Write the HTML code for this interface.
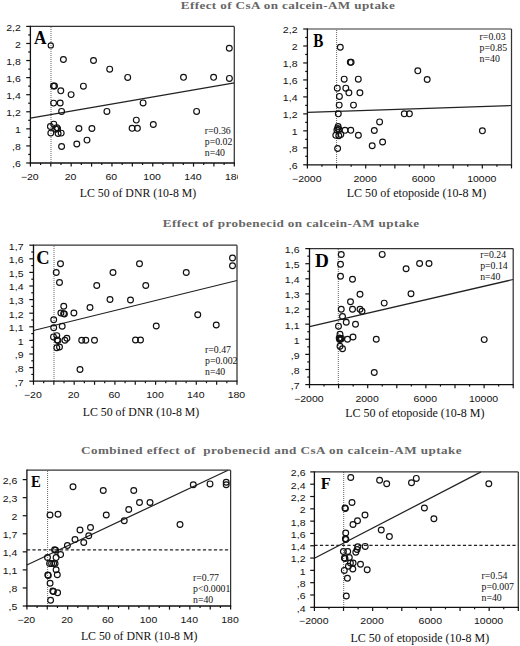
<!DOCTYPE html><html><head><meta charset="utf-8"><style>html,body{margin:0;padding:0;background:#fff;}svg{display:block;}</style></head><body>
<svg width="520" height="646" viewBox="0 0 520 646">
<rect width="520" height="646" fill="#fff"/>
<g transform="translate(180.8,8.8) scale(1.15,1)"><text x="0" y="0" font-family='"Liberation Serif", serif' font-weight="bold" font-size="11.4" fill="#666" textLength="186.09" lengthAdjust="spacing" xml:space="preserve">Effect of CsA on calcein-AM uptake</text></g>
<g transform="translate(162.8,227.4) scale(1.15,1)"><text x="0" y="0" font-family='"Liberation Serif", serif' font-weight="bold" font-size="11.4" fill="#666" textLength="222.96" lengthAdjust="spacing" xml:space="preserve">Effect of probenecid on calcein-AM uptake</text></g>
<g transform="translate(81.0,453.7) scale(1.15,1)"><text x="0" y="0" font-family='"Liberation Serif", serif' font-weight="bold" font-size="11.4" fill="#666" textLength="331.04" lengthAdjust="spacing" xml:space="preserve">Combined effect of  probenecid and CsA on calcein-AM uptake</text></g>
<g>
<line x1="51.0" y1="27" x2="51.0" y2="163.0" stroke="#666" stroke-width="1" stroke-dasharray="1 1"/>
<line x1="30.4" y1="118.2" x2="234.3" y2="82.8" stroke="#222" stroke-width="1.25"/>
<circle cx="50.8" cy="45.4" r="2.6" fill="none" stroke="#111" stroke-width="1.15"/>
<circle cx="63.4" cy="59.5" r="2.9" fill="none" stroke="#111" stroke-width="1.15"/>
<circle cx="93.5" cy="60.5" r="2.9" fill="none" stroke="#111" stroke-width="1.15"/>
<circle cx="109.7" cy="69.2" r="2.9" fill="none" stroke="#111" stroke-width="1.15"/>
<circle cx="127.7" cy="77.4" r="2.9" fill="none" stroke="#111" stroke-width="1.15"/>
<circle cx="183.5" cy="77.3" r="2.9" fill="none" stroke="#111" stroke-width="1.15"/>
<circle cx="213.6" cy="77.3" r="2.9" fill="none" stroke="#111" stroke-width="1.15"/>
<circle cx="229.4" cy="78.4" r="2.9" fill="none" stroke="#111" stroke-width="1.15"/>
<circle cx="229.3" cy="48.2" r="2.9" fill="none" stroke="#111" stroke-width="1.15"/>
<circle cx="53.5" cy="86.0" r="2.9" fill="none" stroke="#111" stroke-width="1.15"/>
<circle cx="54.5" cy="86.0" r="2.9" fill="none" stroke="#111" stroke-width="1.15"/>
<circle cx="60.8" cy="90.8" r="2.9" fill="none" stroke="#111" stroke-width="1.15"/>
<circle cx="71.1" cy="94.6" r="2.9" fill="none" stroke="#111" stroke-width="1.15"/>
<circle cx="83.4" cy="86.2" r="2.9" fill="none" stroke="#111" stroke-width="1.15"/>
<circle cx="53.6" cy="103.1" r="2.9" fill="none" stroke="#111" stroke-width="1.15"/>
<circle cx="60.2" cy="103.0" r="2.9" fill="none" stroke="#111" stroke-width="1.15"/>
<circle cx="61.6" cy="111.4" r="2.9" fill="none" stroke="#111" stroke-width="1.15"/>
<circle cx="106.9" cy="111.4" r="2.9" fill="none" stroke="#111" stroke-width="1.15"/>
<circle cx="143.1" cy="102.9" r="2.9" fill="none" stroke="#111" stroke-width="1.15"/>
<circle cx="196.6" cy="111.4" r="2.9" fill="none" stroke="#111" stroke-width="1.15"/>
<circle cx="136.3" cy="120.1" r="2.9" fill="none" stroke="#111" stroke-width="1.15"/>
<circle cx="132.1" cy="128.3" r="2.9" fill="none" stroke="#111" stroke-width="1.15"/>
<circle cx="137.4" cy="128.3" r="2.9" fill="none" stroke="#111" stroke-width="1.15"/>
<circle cx="153.3" cy="124.5" r="2.9" fill="none" stroke="#111" stroke-width="1.15"/>
<circle cx="50.4" cy="126.5" r="2.9" fill="none" stroke="#111" stroke-width="1.15"/>
<circle cx="53.8" cy="124.2" r="2.9" fill="none" stroke="#111" stroke-width="1.15"/>
<circle cx="56.8" cy="127.6" r="2.9" fill="none" stroke="#111" stroke-width="1.15"/>
<circle cx="57.6" cy="128.6" r="2.9" fill="none" stroke="#111" stroke-width="1.15"/>
<circle cx="55.8" cy="129.2" r="2.9" fill="none" stroke="#111" stroke-width="1.15"/>
<circle cx="50.8" cy="133.1" r="2.9" fill="none" stroke="#111" stroke-width="1.15"/>
<circle cx="58.1" cy="133.5" r="2.9" fill="none" stroke="#111" stroke-width="1.15"/>
<circle cx="61.2" cy="133.1" r="2.9" fill="none" stroke="#111" stroke-width="1.15"/>
<circle cx="78.9" cy="128.5" r="2.9" fill="none" stroke="#111" stroke-width="1.15"/>
<circle cx="91.9" cy="128.5" r="2.9" fill="none" stroke="#111" stroke-width="1.15"/>
<circle cx="76.8" cy="144.0" r="2.9" fill="none" stroke="#111" stroke-width="1.15"/>
<circle cx="87.0" cy="140.1" r="2.9" fill="none" stroke="#111" stroke-width="1.15"/>
<circle cx="61.6" cy="146.5" r="2.9" fill="none" stroke="#111" stroke-width="1.15"/>
<line x1="30.4" y1="26.4" x2="234.3" y2="26.4" stroke="#333" stroke-width="1.2"/>
<line x1="234.3" y1="26.4" x2="234.3" y2="163.0" stroke="#333" stroke-width="1.25"/>
<line x1="30.4" y1="25.799999999999997" x2="30.4" y2="163.6" stroke="#111" stroke-width="1.3"/>
<line x1="29.799999999999997" y1="163.0" x2="234.9" y2="163.0" stroke="#111" stroke-width="1.3"/>
<line x1="26.2" y1="163.00" x2="30.4" y2="163.00" stroke="#111" stroke-width="1.2"/>
<g transform="translate(20.8,167.40) scale(1.17,1)"><text x="0" y="0" text-anchor="end" font-family='"Liberation Sans", sans-serif' font-size="9" fill="#111">,6</text></g>
<line x1="28.2" y1="154.46" x2="30.4" y2="154.46" stroke="#111" stroke-width="1.2"/>
<line x1="26.2" y1="145.93" x2="30.4" y2="145.93" stroke="#111" stroke-width="1.2"/>
<g transform="translate(20.8,150.33) scale(1.17,1)"><text x="0" y="0" text-anchor="end" font-family='"Liberation Sans", sans-serif' font-size="9" fill="#111">,8</text></g>
<line x1="28.2" y1="137.39" x2="30.4" y2="137.39" stroke="#111" stroke-width="1.2"/>
<line x1="26.2" y1="128.85" x2="30.4" y2="128.85" stroke="#111" stroke-width="1.2"/>
<g transform="translate(20.8,133.25) scale(1.17,1)"><text x="0" y="0" text-anchor="end" font-family='"Liberation Sans", sans-serif' font-size="9" fill="#111">1</text></g>
<line x1="28.2" y1="120.31" x2="30.4" y2="120.31" stroke="#111" stroke-width="1.2"/>
<line x1="26.2" y1="111.77" x2="30.4" y2="111.77" stroke="#111" stroke-width="1.2"/>
<g transform="translate(20.8,116.17) scale(1.17,1)"><text x="0" y="0" text-anchor="end" font-family='"Liberation Sans", sans-serif' font-size="9" fill="#111">1,2</text></g>
<line x1="28.2" y1="103.24" x2="30.4" y2="103.24" stroke="#111" stroke-width="1.2"/>
<line x1="26.2" y1="94.70" x2="30.4" y2="94.70" stroke="#111" stroke-width="1.2"/>
<g transform="translate(20.8,99.10) scale(1.17,1)"><text x="0" y="0" text-anchor="end" font-family='"Liberation Sans", sans-serif' font-size="9" fill="#111">1,4</text></g>
<line x1="28.2" y1="86.16" x2="30.4" y2="86.16" stroke="#111" stroke-width="1.2"/>
<line x1="26.2" y1="77.62" x2="30.4" y2="77.62" stroke="#111" stroke-width="1.2"/>
<g transform="translate(20.8,82.03) scale(1.17,1)"><text x="0" y="0" text-anchor="end" font-family='"Liberation Sans", sans-serif' font-size="9" fill="#111">1,6</text></g>
<line x1="28.2" y1="69.09" x2="30.4" y2="69.09" stroke="#111" stroke-width="1.2"/>
<line x1="26.2" y1="60.55" x2="30.4" y2="60.55" stroke="#111" stroke-width="1.2"/>
<g transform="translate(20.8,64.95) scale(1.17,1)"><text x="0" y="0" text-anchor="end" font-family='"Liberation Sans", sans-serif' font-size="9" fill="#111">1,8</text></g>
<line x1="28.2" y1="52.01" x2="30.4" y2="52.01" stroke="#111" stroke-width="1.2"/>
<line x1="26.2" y1="43.48" x2="30.4" y2="43.48" stroke="#111" stroke-width="1.2"/>
<g transform="translate(20.8,47.88) scale(1.17,1)"><text x="0" y="0" text-anchor="end" font-family='"Liberation Sans", sans-serif' font-size="9" fill="#111">2</text></g>
<line x1="28.2" y1="34.94" x2="30.4" y2="34.94" stroke="#111" stroke-width="1.2"/>
<line x1="26.2" y1="26.40" x2="30.4" y2="26.40" stroke="#111" stroke-width="1.2"/>
<g transform="translate(20.8,30.80) scale(1.17,1)"><text x="0" y="0" text-anchor="end" font-family='"Liberation Sans", sans-serif' font-size="9" fill="#111">2,2</text></g>
<line x1="30.40" y1="163.0" x2="30.40" y2="166.6" stroke="#111" stroke-width="1.2"/>
<line x1="40.59" y1="163.0" x2="40.59" y2="165.0" stroke="#111" stroke-width="1.2"/>
<line x1="50.79" y1="163.0" x2="50.79" y2="166.6" stroke="#111" stroke-width="1.2"/>
<line x1="60.98" y1="163.0" x2="60.98" y2="165.0" stroke="#111" stroke-width="1.2"/>
<line x1="71.18" y1="163.0" x2="71.18" y2="166.6" stroke="#111" stroke-width="1.2"/>
<line x1="81.38" y1="163.0" x2="81.38" y2="165.0" stroke="#111" stroke-width="1.2"/>
<line x1="91.57" y1="163.0" x2="91.57" y2="166.6" stroke="#111" stroke-width="1.2"/>
<line x1="101.76" y1="163.0" x2="101.76" y2="165.0" stroke="#111" stroke-width="1.2"/>
<line x1="111.96" y1="163.0" x2="111.96" y2="166.6" stroke="#111" stroke-width="1.2"/>
<line x1="122.16" y1="163.0" x2="122.16" y2="165.0" stroke="#111" stroke-width="1.2"/>
<line x1="132.35" y1="163.0" x2="132.35" y2="166.6" stroke="#111" stroke-width="1.2"/>
<line x1="142.55" y1="163.0" x2="142.55" y2="165.0" stroke="#111" stroke-width="1.2"/>
<line x1="152.74" y1="163.0" x2="152.74" y2="166.6" stroke="#111" stroke-width="1.2"/>
<line x1="162.94" y1="163.0" x2="162.94" y2="165.0" stroke="#111" stroke-width="1.2"/>
<line x1="173.13" y1="163.0" x2="173.13" y2="166.6" stroke="#111" stroke-width="1.2"/>
<line x1="183.33" y1="163.0" x2="183.33" y2="165.0" stroke="#111" stroke-width="1.2"/>
<line x1="193.52" y1="163.0" x2="193.52" y2="166.6" stroke="#111" stroke-width="1.2"/>
<line x1="203.72" y1="163.0" x2="203.72" y2="165.0" stroke="#111" stroke-width="1.2"/>
<line x1="213.91" y1="163.0" x2="213.91" y2="166.6" stroke="#111" stroke-width="1.2"/>
<line x1="224.10" y1="163.0" x2="224.10" y2="165.0" stroke="#111" stroke-width="1.2"/>
<line x1="234.30" y1="163.0" x2="234.30" y2="166.6" stroke="#111" stroke-width="1.2"/>
<clipPath id="clipA"><rect x="0" y="0" width="238.0" height="646"/></clipPath>
<g transform="translate(29.80,180.2) scale(1.17,1)"><text x="0" y="0" text-anchor="middle" font-family='"Liberation Sans", sans-serif' font-size="9" fill="#111">−20</text></g>
<g transform="translate(70.58,180.2) scale(1.17,1)"><text x="0" y="0" text-anchor="middle" font-family='"Liberation Sans", sans-serif' font-size="9" fill="#111">20</text></g>
<g transform="translate(111.36,180.2) scale(1.17,1)"><text x="0" y="0" text-anchor="middle" font-family='"Liberation Sans", sans-serif' font-size="9" fill="#111">60</text></g>
<g transform="translate(152.14,180.2) scale(1.17,1)"><text x="0" y="0" text-anchor="middle" font-family='"Liberation Sans", sans-serif' font-size="9" fill="#111">100</text></g>
<g transform="translate(192.92,180.2) scale(1.17,1)"><text x="0" y="0" text-anchor="middle" font-family='"Liberation Sans", sans-serif' font-size="9" fill="#111">140</text></g>
<g clip-path="url(#clipA)">
<g transform="translate(233.70,180.2) scale(1.17,1)"><text x="0" y="0" text-anchor="middle" font-family='"Liberation Sans", sans-serif' font-size="9" fill="#111">180</text></g>
</g>
<g transform="translate(33.93,43.80) scale(0.967,1)"><text x="0" y="0" font-family='"Liberation Serif", serif' font-weight="bold" font-size="17.88" fill="#000">A</text></g>
<text x="204.8" y="133.90" font-family='"Liberation Serif", serif' font-size="9.8" fill="#111">r=0.36</text>
<text x="204.8" y="144.95" font-family='"Liberation Serif", serif' font-size="9.8" fill="#111">p=0.02</text>
<text x="204.8" y="156.00" font-family='"Liberation Serif", serif' font-size="9.8" fill="#111">n=40</text>
<text x="79.70" y="196.5" font-family='"Liberation Serif", serif' font-size="11.8" fill="#111" textLength="116.60" lengthAdjust="spacingAndGlyphs">LC 50 of DNR (10-8 M)</text>
</g>
<g>
<line x1="336.6" y1="30" x2="336.6" y2="164.8" stroke="#666" stroke-width="1" stroke-dasharray="1 1"/>
<line x1="307.4" y1="112.3" x2="511.5" y2="105.5" stroke="#222" stroke-width="1.25"/>
<circle cx="340.3" cy="47.3" r="2.9" fill="none" stroke="#111" stroke-width="1.15"/>
<circle cx="350.3" cy="62.3" r="2.9" fill="none" stroke="#111" stroke-width="1.15"/>
<circle cx="351.1" cy="62.3" r="2.9" fill="none" stroke="#111" stroke-width="1.15"/>
<circle cx="344.2" cy="79.2" r="2.9" fill="none" stroke="#111" stroke-width="1.15"/>
<circle cx="358.3" cy="79.2" r="2.9" fill="none" stroke="#111" stroke-width="1.15"/>
<circle cx="337.3" cy="88.2" r="2.9" fill="none" stroke="#111" stroke-width="1.15"/>
<circle cx="345.8" cy="88.2" r="2.9" fill="none" stroke="#111" stroke-width="1.15"/>
<circle cx="348.9" cy="92.8" r="2.9" fill="none" stroke="#111" stroke-width="1.15"/>
<circle cx="359.9" cy="92.8" r="2.9" fill="none" stroke="#111" stroke-width="1.15"/>
<circle cx="339.4" cy="96.4" r="2.9" fill="none" stroke="#111" stroke-width="1.15"/>
<circle cx="339.2" cy="105.1" r="2.9" fill="none" stroke="#111" stroke-width="1.15"/>
<circle cx="353.5" cy="105.1" r="2.9" fill="none" stroke="#111" stroke-width="1.15"/>
<circle cx="338.3" cy="113.8" r="2.9" fill="none" stroke="#111" stroke-width="1.15"/>
<circle cx="404.3" cy="113.8" r="2.9" fill="none" stroke="#111" stroke-width="1.15"/>
<circle cx="409.4" cy="113.8" r="2.9" fill="none" stroke="#111" stroke-width="1.15"/>
<circle cx="417.8" cy="70.8" r="2.9" fill="none" stroke="#111" stroke-width="1.15"/>
<circle cx="427.2" cy="79.5" r="2.9" fill="none" stroke="#111" stroke-width="1.15"/>
<circle cx="379.6" cy="121.9" r="2.9" fill="none" stroke="#111" stroke-width="1.15"/>
<circle cx="482.4" cy="130.8" r="2.9" fill="none" stroke="#111" stroke-width="1.15"/>
<circle cx="338.1" cy="126.5" r="2.9" fill="none" stroke="#111" stroke-width="1.15"/>
<circle cx="337.7" cy="128.4" r="2.9" fill="none" stroke="#111" stroke-width="1.15"/>
<circle cx="339.0" cy="129.5" r="2.9" fill="none" stroke="#111" stroke-width="1.15"/>
<circle cx="345.0" cy="130.3" r="2.9" fill="none" stroke="#111" stroke-width="1.15"/>
<circle cx="350.8" cy="130.3" r="2.9" fill="none" stroke="#111" stroke-width="1.15"/>
<circle cx="336.9" cy="130.0" r="2.9" fill="none" stroke="#111" stroke-width="1.15"/>
<circle cx="374.3" cy="130.5" r="2.9" fill="none" stroke="#111" stroke-width="1.15"/>
<circle cx="335.8" cy="135.3" r="2.9" fill="none" stroke="#111" stroke-width="1.15"/>
<circle cx="338.8" cy="135.7" r="2.9" fill="none" stroke="#111" stroke-width="1.15"/>
<circle cx="340.8" cy="134.5" r="2.9" fill="none" stroke="#111" stroke-width="1.15"/>
<circle cx="358.4" cy="135.2" r="2.9" fill="none" stroke="#111" stroke-width="1.15"/>
<circle cx="382.6" cy="142.0" r="2.9" fill="none" stroke="#111" stroke-width="1.15"/>
<circle cx="372.2" cy="145.7" r="2.9" fill="none" stroke="#111" stroke-width="1.15"/>
<circle cx="337.6" cy="148.5" r="2.9" fill="none" stroke="#111" stroke-width="1.15"/>
<line x1="307.4" y1="29.0" x2="511.5" y2="29.0" stroke="#333" stroke-width="1.2"/>
<line x1="511.5" y1="29.0" x2="511.5" y2="164.8" stroke="#333" stroke-width="1.25"/>
<line x1="307.4" y1="28.4" x2="307.4" y2="165.4" stroke="#111" stroke-width="1.3"/>
<line x1="306.79999999999995" y1="164.8" x2="512.1" y2="164.8" stroke="#111" stroke-width="1.3"/>
<line x1="303.2" y1="164.80" x2="307.4" y2="164.80" stroke="#111" stroke-width="1.2"/>
<g transform="translate(297.5,169.20) scale(1.17,1)"><text x="0" y="0" text-anchor="end" font-family='"Liberation Sans", sans-serif' font-size="9" fill="#111">,6</text></g>
<line x1="305.2" y1="156.31" x2="307.4" y2="156.31" stroke="#111" stroke-width="1.2"/>
<line x1="303.2" y1="147.83" x2="307.4" y2="147.83" stroke="#111" stroke-width="1.2"/>
<g transform="translate(297.5,152.23) scale(1.17,1)"><text x="0" y="0" text-anchor="end" font-family='"Liberation Sans", sans-serif' font-size="9" fill="#111">,8</text></g>
<line x1="305.2" y1="139.34" x2="307.4" y2="139.34" stroke="#111" stroke-width="1.2"/>
<line x1="303.2" y1="130.85" x2="307.4" y2="130.85" stroke="#111" stroke-width="1.2"/>
<g transform="translate(297.5,135.25) scale(1.17,1)"><text x="0" y="0" text-anchor="end" font-family='"Liberation Sans", sans-serif' font-size="9" fill="#111">1</text></g>
<line x1="305.2" y1="122.36" x2="307.4" y2="122.36" stroke="#111" stroke-width="1.2"/>
<line x1="303.2" y1="113.88" x2="307.4" y2="113.88" stroke="#111" stroke-width="1.2"/>
<g transform="translate(297.5,118.28) scale(1.17,1)"><text x="0" y="0" text-anchor="end" font-family='"Liberation Sans", sans-serif' font-size="9" fill="#111">1,2</text></g>
<line x1="305.2" y1="105.39" x2="307.4" y2="105.39" stroke="#111" stroke-width="1.2"/>
<line x1="303.2" y1="96.90" x2="307.4" y2="96.90" stroke="#111" stroke-width="1.2"/>
<g transform="translate(297.5,101.30) scale(1.17,1)"><text x="0" y="0" text-anchor="end" font-family='"Liberation Sans", sans-serif' font-size="9" fill="#111">1,4</text></g>
<line x1="305.2" y1="88.41" x2="307.4" y2="88.41" stroke="#111" stroke-width="1.2"/>
<line x1="303.2" y1="79.93" x2="307.4" y2="79.93" stroke="#111" stroke-width="1.2"/>
<g transform="translate(297.5,84.33) scale(1.17,1)"><text x="0" y="0" text-anchor="end" font-family='"Liberation Sans", sans-serif' font-size="9" fill="#111">1,6</text></g>
<line x1="305.2" y1="71.44" x2="307.4" y2="71.44" stroke="#111" stroke-width="1.2"/>
<line x1="303.2" y1="62.95" x2="307.4" y2="62.95" stroke="#111" stroke-width="1.2"/>
<g transform="translate(297.5,67.35) scale(1.17,1)"><text x="0" y="0" text-anchor="end" font-family='"Liberation Sans", sans-serif' font-size="9" fill="#111">1,8</text></g>
<line x1="305.2" y1="54.46" x2="307.4" y2="54.46" stroke="#111" stroke-width="1.2"/>
<line x1="303.2" y1="45.98" x2="307.4" y2="45.98" stroke="#111" stroke-width="1.2"/>
<g transform="translate(297.5,50.38) scale(1.17,1)"><text x="0" y="0" text-anchor="end" font-family='"Liberation Sans", sans-serif' font-size="9" fill="#111">2</text></g>
<line x1="305.2" y1="37.49" x2="307.4" y2="37.49" stroke="#111" stroke-width="1.2"/>
<line x1="303.2" y1="29.00" x2="307.4" y2="29.00" stroke="#111" stroke-width="1.2"/>
<g transform="translate(297.5,33.40) scale(1.17,1)"><text x="0" y="0" text-anchor="end" font-family='"Liberation Sans", sans-serif' font-size="9" fill="#111">2,2</text></g>
<line x1="307.40" y1="164.8" x2="307.40" y2="168.4" stroke="#111" stroke-width="1.2"/>
<line x1="321.98" y1="164.8" x2="321.98" y2="166.8" stroke="#111" stroke-width="1.2"/>
<line x1="336.56" y1="164.8" x2="336.56" y2="168.4" stroke="#111" stroke-width="1.2"/>
<line x1="351.14" y1="164.8" x2="351.14" y2="166.8" stroke="#111" stroke-width="1.2"/>
<line x1="365.71" y1="164.8" x2="365.71" y2="168.4" stroke="#111" stroke-width="1.2"/>
<line x1="380.29" y1="164.8" x2="380.29" y2="166.8" stroke="#111" stroke-width="1.2"/>
<line x1="394.87" y1="164.8" x2="394.87" y2="168.4" stroke="#111" stroke-width="1.2"/>
<line x1="409.45" y1="164.8" x2="409.45" y2="166.8" stroke="#111" stroke-width="1.2"/>
<line x1="424.03" y1="164.8" x2="424.03" y2="168.4" stroke="#111" stroke-width="1.2"/>
<line x1="438.61" y1="164.8" x2="438.61" y2="166.8" stroke="#111" stroke-width="1.2"/>
<line x1="453.19" y1="164.8" x2="453.19" y2="168.4" stroke="#111" stroke-width="1.2"/>
<line x1="467.76" y1="164.8" x2="467.76" y2="166.8" stroke="#111" stroke-width="1.2"/>
<line x1="482.34" y1="164.8" x2="482.34" y2="168.4" stroke="#111" stroke-width="1.2"/>
<line x1="496.92" y1="164.8" x2="496.92" y2="166.8" stroke="#111" stroke-width="1.2"/>
<line x1="511.50" y1="164.8" x2="511.50" y2="168.4" stroke="#111" stroke-width="1.2"/>
<g transform="translate(306.80,182.3) scale(1.17,1)"><text x="0" y="0" text-anchor="middle" font-family='"Liberation Sans", sans-serif' font-size="9" fill="#111">−2000</text></g>
<g transform="translate(365.11,182.3) scale(1.17,1)"><text x="0" y="0" text-anchor="middle" font-family='"Liberation Sans", sans-serif' font-size="9" fill="#111">2000</text></g>
<g transform="translate(423.43,182.3) scale(1.17,1)"><text x="0" y="0" text-anchor="middle" font-family='"Liberation Sans", sans-serif' font-size="9" fill="#111">6000</text></g>
<g transform="translate(481.74,182.3) scale(1.17,1)"><text x="0" y="0" text-anchor="middle" font-family='"Liberation Sans", sans-serif' font-size="9" fill="#111">10000</text></g>
<g transform="translate(313.20,46.80) scale(0.835,1)"><text x="0" y="0" font-family='"Liberation Serif", serif' font-weight="bold" font-size="18.15" fill="#000">B</text></g>
<text x="479.6" y="39.60" font-family='"Liberation Serif", serif' font-size="9.8" fill="#111">r=0.03</text>
<text x="479.6" y="50.65" font-family='"Liberation Serif", serif' font-size="9.8" fill="#111">p=0.85</text>
<text x="479.6" y="61.70" font-family='"Liberation Serif", serif' font-size="9.8" fill="#111">n=40</text>
<text x="346.70" y="197.3" font-family='"Liberation Serif", serif' font-size="11.8" fill="#111" textLength="139.60" lengthAdjust="spacingAndGlyphs">LC 50 of etoposide (10-8 M)</text>
</g>
<g>
<line x1="54.0" y1="246" x2="54.0" y2="381.2" stroke="#666" stroke-width="1" stroke-dasharray="1 1"/>
<line x1="33.5" y1="330.5" x2="237.0" y2="280.5" stroke="#222" stroke-width="1.25"/>
<circle cx="60.5" cy="263.75" r="2.9" fill="none" stroke="#111" stroke-width="1.15"/>
<circle cx="56.25" cy="272.5" r="2.9" fill="none" stroke="#111" stroke-width="1.15"/>
<circle cx="59.5" cy="282.5" r="2.9" fill="none" stroke="#111" stroke-width="1.15"/>
<circle cx="96.75" cy="285.5" r="2.9" fill="none" stroke="#111" stroke-width="1.15"/>
<circle cx="113" cy="272.5" r="2.9" fill="none" stroke="#111" stroke-width="1.15"/>
<circle cx="110" cy="299.5" r="2.9" fill="none" stroke="#111" stroke-width="1.15"/>
<circle cx="63.75" cy="306.25" r="2.9" fill="none" stroke="#111" stroke-width="1.15"/>
<circle cx="90" cy="307.5" r="2.9" fill="none" stroke="#111" stroke-width="1.15"/>
<circle cx="60.9" cy="313.0" r="2.9" fill="none" stroke="#111" stroke-width="1.15"/>
<circle cx="63.6" cy="313.6" r="2.9" fill="none" stroke="#111" stroke-width="1.15"/>
<circle cx="64.4" cy="314.0" r="2.9" fill="none" stroke="#111" stroke-width="1.15"/>
<circle cx="73.9" cy="313.0" r="2.9" fill="none" stroke="#111" stroke-width="1.15"/>
<circle cx="53.7" cy="319.7" r="2.9" fill="none" stroke="#111" stroke-width="1.15"/>
<circle cx="53.7" cy="327.8" r="2.9" fill="none" stroke="#111" stroke-width="1.15"/>
<circle cx="62.2" cy="326.2" r="2.9" fill="none" stroke="#111" stroke-width="1.15"/>
<circle cx="139.5" cy="263.75" r="2.9" fill="none" stroke="#111" stroke-width="1.15"/>
<circle cx="186.25" cy="272.5" r="2.9" fill="none" stroke="#111" stroke-width="1.15"/>
<circle cx="232.5" cy="258" r="2.9" fill="none" stroke="#111" stroke-width="1.15"/>
<circle cx="232.5" cy="265.75" r="2.9" fill="none" stroke="#111" stroke-width="1.15"/>
<circle cx="145.75" cy="285.5" r="2.9" fill="none" stroke="#111" stroke-width="1.15"/>
<circle cx="130.5" cy="300" r="2.9" fill="none" stroke="#111" stroke-width="1.15"/>
<circle cx="197.75" cy="314.8" r="2.9" fill="none" stroke="#111" stroke-width="1.15"/>
<circle cx="216.25" cy="325" r="2.9" fill="none" stroke="#111" stroke-width="1.15"/>
<circle cx="156.25" cy="326" r="2.9" fill="none" stroke="#111" stroke-width="1.15"/>
<circle cx="135.5" cy="340" r="2.9" fill="none" stroke="#111" stroke-width="1.15"/>
<circle cx="140.5" cy="340" r="2.9" fill="none" stroke="#111" stroke-width="1.15"/>
<circle cx="53.5" cy="336.9" r="2.9" fill="none" stroke="#111" stroke-width="1.15"/>
<circle cx="56.8" cy="335.6" r="2.9" fill="none" stroke="#111" stroke-width="1.15"/>
<circle cx="57.2" cy="340.0" r="2.9" fill="none" stroke="#111" stroke-width="1.15"/>
<circle cx="57.9" cy="340.6" r="2.9" fill="none" stroke="#111" stroke-width="1.15"/>
<circle cx="64.9" cy="340.3" r="2.9" fill="none" stroke="#111" stroke-width="1.15"/>
<circle cx="66.9" cy="338.3" r="2.9" fill="none" stroke="#111" stroke-width="1.15"/>
<circle cx="56.8" cy="347.7" r="2.9" fill="none" stroke="#111" stroke-width="1.15"/>
<circle cx="59.5" cy="347.0" r="2.9" fill="none" stroke="#111" stroke-width="1.15"/>
<circle cx="81.7" cy="340.3" r="2.9" fill="none" stroke="#111" stroke-width="1.15"/>
<circle cx="85.8" cy="340.3" r="2.9" fill="none" stroke="#111" stroke-width="1.15"/>
<circle cx="94.5" cy="340.3" r="2.9" fill="none" stroke="#111" stroke-width="1.15"/>
<circle cx="80.0" cy="369.5" r="2.9" fill="none" stroke="#111" stroke-width="1.15"/>
<line x1="33.5" y1="245.2" x2="237.0" y2="245.2" stroke="#333" stroke-width="1.2"/>
<line x1="237.0" y1="245.2" x2="237.0" y2="381.2" stroke="#333" stroke-width="1.25"/>
<line x1="33.5" y1="244.6" x2="33.5" y2="381.8" stroke="#111" stroke-width="1.3"/>
<line x1="32.9" y1="381.2" x2="237.6" y2="381.2" stroke="#111" stroke-width="1.3"/>
<line x1="29.3" y1="381.20" x2="33.5" y2="381.20" stroke="#111" stroke-width="1.2"/>
<g transform="translate(23.5,385.60) scale(1.17,1)"><text x="0" y="0" text-anchor="end" font-family='"Liberation Sans", sans-serif' font-size="9" fill="#111">,7</text></g>
<line x1="31.3" y1="374.40" x2="33.5" y2="374.40" stroke="#111" stroke-width="1.2"/>
<line x1="29.3" y1="367.60" x2="33.5" y2="367.60" stroke="#111" stroke-width="1.2"/>
<g transform="translate(23.5,372.00) scale(1.17,1)"><text x="0" y="0" text-anchor="end" font-family='"Liberation Sans", sans-serif' font-size="9" fill="#111">,8</text></g>
<line x1="31.3" y1="360.80" x2="33.5" y2="360.80" stroke="#111" stroke-width="1.2"/>
<line x1="29.3" y1="354.00" x2="33.5" y2="354.00" stroke="#111" stroke-width="1.2"/>
<g transform="translate(23.5,358.40) scale(1.17,1)"><text x="0" y="0" text-anchor="end" font-family='"Liberation Sans", sans-serif' font-size="9" fill="#111">,9</text></g>
<line x1="31.3" y1="347.20" x2="33.5" y2="347.20" stroke="#111" stroke-width="1.2"/>
<line x1="29.3" y1="340.40" x2="33.5" y2="340.40" stroke="#111" stroke-width="1.2"/>
<g transform="translate(23.5,344.80) scale(1.17,1)"><text x="0" y="0" text-anchor="end" font-family='"Liberation Sans", sans-serif' font-size="9" fill="#111">1</text></g>
<line x1="31.3" y1="333.60" x2="33.5" y2="333.60" stroke="#111" stroke-width="1.2"/>
<line x1="29.3" y1="326.80" x2="33.5" y2="326.80" stroke="#111" stroke-width="1.2"/>
<g transform="translate(23.5,331.20) scale(1.17,1)"><text x="0" y="0" text-anchor="end" font-family='"Liberation Sans", sans-serif' font-size="9" fill="#111">1,1</text></g>
<line x1="31.3" y1="320.00" x2="33.5" y2="320.00" stroke="#111" stroke-width="1.2"/>
<line x1="29.3" y1="313.20" x2="33.5" y2="313.20" stroke="#111" stroke-width="1.2"/>
<g transform="translate(23.5,317.60) scale(1.17,1)"><text x="0" y="0" text-anchor="end" font-family='"Liberation Sans", sans-serif' font-size="9" fill="#111">1,2</text></g>
<line x1="31.3" y1="306.40" x2="33.5" y2="306.40" stroke="#111" stroke-width="1.2"/>
<line x1="29.3" y1="299.60" x2="33.5" y2="299.60" stroke="#111" stroke-width="1.2"/>
<g transform="translate(23.5,304.00) scale(1.17,1)"><text x="0" y="0" text-anchor="end" font-family='"Liberation Sans", sans-serif' font-size="9" fill="#111">1,3</text></g>
<line x1="31.3" y1="292.80" x2="33.5" y2="292.80" stroke="#111" stroke-width="1.2"/>
<line x1="29.3" y1="286.00" x2="33.5" y2="286.00" stroke="#111" stroke-width="1.2"/>
<g transform="translate(23.5,290.40) scale(1.17,1)"><text x="0" y="0" text-anchor="end" font-family='"Liberation Sans", sans-serif' font-size="9" fill="#111">1,4</text></g>
<line x1="31.3" y1="279.20" x2="33.5" y2="279.20" stroke="#111" stroke-width="1.2"/>
<line x1="29.3" y1="272.40" x2="33.5" y2="272.40" stroke="#111" stroke-width="1.2"/>
<g transform="translate(23.5,276.80) scale(1.17,1)"><text x="0" y="0" text-anchor="end" font-family='"Liberation Sans", sans-serif' font-size="9" fill="#111">1,5</text></g>
<line x1="31.3" y1="265.60" x2="33.5" y2="265.60" stroke="#111" stroke-width="1.2"/>
<line x1="29.3" y1="258.80" x2="33.5" y2="258.80" stroke="#111" stroke-width="1.2"/>
<g transform="translate(23.5,263.20) scale(1.17,1)"><text x="0" y="0" text-anchor="end" font-family='"Liberation Sans", sans-serif' font-size="9" fill="#111">1,6</text></g>
<line x1="31.3" y1="252.00" x2="33.5" y2="252.00" stroke="#111" stroke-width="1.2"/>
<line x1="29.3" y1="245.20" x2="33.5" y2="245.20" stroke="#111" stroke-width="1.2"/>
<g transform="translate(23.5,249.60) scale(1.17,1)"><text x="0" y="0" text-anchor="end" font-family='"Liberation Sans", sans-serif' font-size="9" fill="#111">1,7</text></g>
<line x1="33.50" y1="381.2" x2="33.50" y2="384.8" stroke="#111" stroke-width="1.2"/>
<line x1="43.67" y1="381.2" x2="43.67" y2="383.2" stroke="#111" stroke-width="1.2"/>
<line x1="53.85" y1="381.2" x2="53.85" y2="384.8" stroke="#111" stroke-width="1.2"/>
<line x1="64.03" y1="381.2" x2="64.03" y2="383.2" stroke="#111" stroke-width="1.2"/>
<line x1="74.20" y1="381.2" x2="74.20" y2="384.8" stroke="#111" stroke-width="1.2"/>
<line x1="84.38" y1="381.2" x2="84.38" y2="383.2" stroke="#111" stroke-width="1.2"/>
<line x1="94.55" y1="381.2" x2="94.55" y2="384.8" stroke="#111" stroke-width="1.2"/>
<line x1="104.72" y1="381.2" x2="104.72" y2="383.2" stroke="#111" stroke-width="1.2"/>
<line x1="114.90" y1="381.2" x2="114.90" y2="384.8" stroke="#111" stroke-width="1.2"/>
<line x1="125.08" y1="381.2" x2="125.08" y2="383.2" stroke="#111" stroke-width="1.2"/>
<line x1="135.25" y1="381.2" x2="135.25" y2="384.8" stroke="#111" stroke-width="1.2"/>
<line x1="145.43" y1="381.2" x2="145.43" y2="383.2" stroke="#111" stroke-width="1.2"/>
<line x1="155.60" y1="381.2" x2="155.60" y2="384.8" stroke="#111" stroke-width="1.2"/>
<line x1="165.78" y1="381.2" x2="165.78" y2="383.2" stroke="#111" stroke-width="1.2"/>
<line x1="175.95" y1="381.2" x2="175.95" y2="384.8" stroke="#111" stroke-width="1.2"/>
<line x1="186.12" y1="381.2" x2="186.12" y2="383.2" stroke="#111" stroke-width="1.2"/>
<line x1="196.30" y1="381.2" x2="196.30" y2="384.8" stroke="#111" stroke-width="1.2"/>
<line x1="206.47" y1="381.2" x2="206.47" y2="383.2" stroke="#111" stroke-width="1.2"/>
<line x1="216.65" y1="381.2" x2="216.65" y2="384.8" stroke="#111" stroke-width="1.2"/>
<line x1="226.82" y1="381.2" x2="226.82" y2="383.2" stroke="#111" stroke-width="1.2"/>
<line x1="237.00" y1="381.2" x2="237.00" y2="384.8" stroke="#111" stroke-width="1.2"/>
<g transform="translate(32.90,398.4) scale(1.17,1)"><text x="0" y="0" text-anchor="middle" font-family='"Liberation Sans", sans-serif' font-size="9" fill="#111">−20</text></g>
<g transform="translate(73.60,398.4) scale(1.17,1)"><text x="0" y="0" text-anchor="middle" font-family='"Liberation Sans", sans-serif' font-size="9" fill="#111">20</text></g>
<g transform="translate(114.30,398.4) scale(1.17,1)"><text x="0" y="0" text-anchor="middle" font-family='"Liberation Sans", sans-serif' font-size="9" fill="#111">60</text></g>
<g transform="translate(155.00,398.4) scale(1.17,1)"><text x="0" y="0" text-anchor="middle" font-family='"Liberation Sans", sans-serif' font-size="9" fill="#111">100</text></g>
<g transform="translate(195.70,398.4) scale(1.17,1)"><text x="0" y="0" text-anchor="middle" font-family='"Liberation Sans", sans-serif' font-size="9" fill="#111">140</text></g>
<g transform="translate(236.40,398.4) scale(1.17,1)"><text x="0" y="0" text-anchor="middle" font-family='"Liberation Sans", sans-serif' font-size="9" fill="#111">180</text></g>
<g transform="translate(36.18,263.62) scale(1.018,1)"><text x="0" y="0" font-family='"Liberation Serif", serif' font-weight="bold" font-size="18.18" fill="#000">C</text></g>
<text x="205.0" y="353.20" font-family='"Liberation Serif", serif' font-size="9.8" fill="#111">r=0.47</text>
<text x="205.0" y="364.25" font-family='"Liberation Serif", serif' font-size="9.8" fill="#111">p=0.002</text>
<text x="205.0" y="375.30" font-family='"Liberation Serif", serif' font-size="9.8" fill="#111">n=40</text>
<text x="82.70" y="415.9" font-family='"Liberation Serif", serif' font-size="11.8" fill="#111" textLength="116.60" lengthAdjust="spacingAndGlyphs">LC 50 of DNR (10-8 M)</text>
</g>
<g>
<line x1="338.3" y1="249" x2="338.3" y2="384.6" stroke="#666" stroke-width="1" stroke-dasharray="1 1"/>
<line x1="309.5" y1="326.7" x2="513.2" y2="279.5" stroke="#222" stroke-width="1.25"/>
<circle cx="341.25" cy="254.5" r="2.9" fill="none" stroke="#111" stroke-width="1.15"/>
<circle cx="382.2" cy="254.4" r="2.9" fill="none" stroke="#111" stroke-width="1.15"/>
<circle cx="340.5" cy="264.25" r="2.9" fill="none" stroke="#111" stroke-width="1.15"/>
<circle cx="340.5" cy="276.25" r="2.9" fill="none" stroke="#111" stroke-width="1.15"/>
<circle cx="352.5" cy="279.25" r="2.9" fill="none" stroke="#111" stroke-width="1.15"/>
<circle cx="360" cy="294.25" r="2.9" fill="none" stroke="#111" stroke-width="1.15"/>
<circle cx="350.5" cy="301.75" r="2.9" fill="none" stroke="#111" stroke-width="1.15"/>
<circle cx="384.2" cy="303.1" r="2.9" fill="none" stroke="#111" stroke-width="1.15"/>
<circle cx="341.25" cy="309.25" r="2.9" fill="none" stroke="#111" stroke-width="1.15"/>
<circle cx="352.5" cy="309.25" r="2.9" fill="none" stroke="#111" stroke-width="1.15"/>
<circle cx="360" cy="309.25" r="2.9" fill="none" stroke="#111" stroke-width="1.15"/>
<circle cx="362" cy="311.25" r="2.9" fill="none" stroke="#111" stroke-width="1.15"/>
<circle cx="342.5" cy="316.5" r="2.9" fill="none" stroke="#111" stroke-width="1.15"/>
<circle cx="346.25" cy="322.3" r="2.9" fill="none" stroke="#111" stroke-width="1.15"/>
<circle cx="355.5" cy="324.25" r="2.9" fill="none" stroke="#111" stroke-width="1.15"/>
<circle cx="338.5" cy="326.25" r="2.9" fill="none" stroke="#111" stroke-width="1.15"/>
<circle cx="406.1" cy="268.7" r="2.9" fill="none" stroke="#111" stroke-width="1.15"/>
<circle cx="419.6" cy="263.5" r="2.9" fill="none" stroke="#111" stroke-width="1.15"/>
<circle cx="429" cy="263.5" r="2.9" fill="none" stroke="#111" stroke-width="1.15"/>
<circle cx="411" cy="293.7" r="2.9" fill="none" stroke="#111" stroke-width="1.15"/>
<circle cx="340" cy="334.25" r="2.9" fill="none" stroke="#111" stroke-width="1.15"/>
<circle cx="339.2" cy="338.0" r="2.9" fill="none" stroke="#111" stroke-width="1.15"/>
<circle cx="340.6" cy="339.2" r="2.9" fill="none" stroke="#111" stroke-width="1.15"/>
<circle cx="341.5" cy="338.4" r="2.9" fill="none" stroke="#111" stroke-width="1.15"/>
<circle cx="339.6" cy="339.6" r="2.9" fill="none" stroke="#111" stroke-width="1.15"/>
<circle cx="340.2" cy="338.6" r="2.9" fill="none" stroke="#111" stroke-width="1.15"/>
<circle cx="347.5" cy="339.25" r="2.9" fill="none" stroke="#111" stroke-width="1.15"/>
<circle cx="353" cy="337" r="2.9" fill="none" stroke="#111" stroke-width="1.15"/>
<circle cx="376.25" cy="339.25" r="2.9" fill="none" stroke="#111" stroke-width="1.15"/>
<circle cx="340" cy="346.25" r="2.9" fill="none" stroke="#111" stroke-width="1.15"/>
<circle cx="342.5" cy="348.75" r="2.9" fill="none" stroke="#111" stroke-width="1.15"/>
<circle cx="374.25" cy="372.5" r="2.9" fill="none" stroke="#111" stroke-width="1.15"/>
<circle cx="484.2" cy="339.6" r="2.9" fill="none" stroke="#111" stroke-width="1.15"/>
<line x1="309.5" y1="248.6" x2="513.2" y2="248.6" stroke="#333" stroke-width="1.2"/>
<line x1="513.2" y1="248.6" x2="513.2" y2="384.6" stroke="#333" stroke-width="1.25"/>
<line x1="309.5" y1="248.0" x2="309.5" y2="385.20000000000005" stroke="#111" stroke-width="1.3"/>
<line x1="308.9" y1="384.6" x2="513.8000000000001" y2="384.6" stroke="#111" stroke-width="1.3"/>
<line x1="305.3" y1="384.60" x2="309.5" y2="384.60" stroke="#111" stroke-width="1.2"/>
<g transform="translate(299.5,389.00) scale(1.17,1)"><text x="0" y="0" text-anchor="end" font-family='"Liberation Sans", sans-serif' font-size="9" fill="#111">,7</text></g>
<line x1="307.3" y1="377.04" x2="309.5" y2="377.04" stroke="#111" stroke-width="1.2"/>
<line x1="305.3" y1="369.49" x2="309.5" y2="369.49" stroke="#111" stroke-width="1.2"/>
<g transform="translate(299.5,373.89) scale(1.17,1)"><text x="0" y="0" text-anchor="end" font-family='"Liberation Sans", sans-serif' font-size="9" fill="#111">,8</text></g>
<line x1="307.3" y1="361.93" x2="309.5" y2="361.93" stroke="#111" stroke-width="1.2"/>
<line x1="305.3" y1="354.38" x2="309.5" y2="354.38" stroke="#111" stroke-width="1.2"/>
<g transform="translate(299.5,358.78) scale(1.17,1)"><text x="0" y="0" text-anchor="end" font-family='"Liberation Sans", sans-serif' font-size="9" fill="#111">,9</text></g>
<line x1="307.3" y1="346.82" x2="309.5" y2="346.82" stroke="#111" stroke-width="1.2"/>
<line x1="305.3" y1="339.27" x2="309.5" y2="339.27" stroke="#111" stroke-width="1.2"/>
<g transform="translate(299.5,343.67) scale(1.17,1)"><text x="0" y="0" text-anchor="end" font-family='"Liberation Sans", sans-serif' font-size="9" fill="#111">1</text></g>
<line x1="307.3" y1="331.71" x2="309.5" y2="331.71" stroke="#111" stroke-width="1.2"/>
<line x1="305.3" y1="324.16" x2="309.5" y2="324.16" stroke="#111" stroke-width="1.2"/>
<g transform="translate(299.5,328.56) scale(1.17,1)"><text x="0" y="0" text-anchor="end" font-family='"Liberation Sans", sans-serif' font-size="9" fill="#111">1,1</text></g>
<line x1="307.3" y1="316.60" x2="309.5" y2="316.60" stroke="#111" stroke-width="1.2"/>
<line x1="305.3" y1="309.04" x2="309.5" y2="309.04" stroke="#111" stroke-width="1.2"/>
<g transform="translate(299.5,313.44) scale(1.17,1)"><text x="0" y="0" text-anchor="end" font-family='"Liberation Sans", sans-serif' font-size="9" fill="#111">1,2</text></g>
<line x1="307.3" y1="301.49" x2="309.5" y2="301.49" stroke="#111" stroke-width="1.2"/>
<line x1="305.3" y1="293.93" x2="309.5" y2="293.93" stroke="#111" stroke-width="1.2"/>
<g transform="translate(299.5,298.33) scale(1.17,1)"><text x="0" y="0" text-anchor="end" font-family='"Liberation Sans", sans-serif' font-size="9" fill="#111">1,3</text></g>
<line x1="307.3" y1="286.38" x2="309.5" y2="286.38" stroke="#111" stroke-width="1.2"/>
<line x1="305.3" y1="278.82" x2="309.5" y2="278.82" stroke="#111" stroke-width="1.2"/>
<g transform="translate(299.5,283.22) scale(1.17,1)"><text x="0" y="0" text-anchor="end" font-family='"Liberation Sans", sans-serif' font-size="9" fill="#111">1,4</text></g>
<line x1="307.3" y1="271.27" x2="309.5" y2="271.27" stroke="#111" stroke-width="1.2"/>
<line x1="305.3" y1="263.71" x2="309.5" y2="263.71" stroke="#111" stroke-width="1.2"/>
<g transform="translate(299.5,268.11) scale(1.17,1)"><text x="0" y="0" text-anchor="end" font-family='"Liberation Sans", sans-serif' font-size="9" fill="#111">1,5</text></g>
<line x1="307.3" y1="256.16" x2="309.5" y2="256.16" stroke="#111" stroke-width="1.2"/>
<line x1="305.3" y1="248.60" x2="309.5" y2="248.60" stroke="#111" stroke-width="1.2"/>
<g transform="translate(299.5,253.00) scale(1.17,1)"><text x="0" y="0" text-anchor="end" font-family='"Liberation Sans", sans-serif' font-size="9" fill="#111">1,6</text></g>
<line x1="309.50" y1="384.6" x2="309.50" y2="388.20000000000005" stroke="#111" stroke-width="1.2"/>
<line x1="324.05" y1="384.6" x2="324.05" y2="386.6" stroke="#111" stroke-width="1.2"/>
<line x1="338.60" y1="384.6" x2="338.60" y2="388.20000000000005" stroke="#111" stroke-width="1.2"/>
<line x1="353.15" y1="384.6" x2="353.15" y2="386.6" stroke="#111" stroke-width="1.2"/>
<line x1="367.70" y1="384.6" x2="367.70" y2="388.20000000000005" stroke="#111" stroke-width="1.2"/>
<line x1="382.25" y1="384.6" x2="382.25" y2="386.6" stroke="#111" stroke-width="1.2"/>
<line x1="396.80" y1="384.6" x2="396.80" y2="388.20000000000005" stroke="#111" stroke-width="1.2"/>
<line x1="411.35" y1="384.6" x2="411.35" y2="386.6" stroke="#111" stroke-width="1.2"/>
<line x1="425.90" y1="384.6" x2="425.90" y2="388.20000000000005" stroke="#111" stroke-width="1.2"/>
<line x1="440.45" y1="384.6" x2="440.45" y2="386.6" stroke="#111" stroke-width="1.2"/>
<line x1="455.00" y1="384.6" x2="455.00" y2="388.20000000000005" stroke="#111" stroke-width="1.2"/>
<line x1="469.55" y1="384.6" x2="469.55" y2="386.6" stroke="#111" stroke-width="1.2"/>
<line x1="484.10" y1="384.6" x2="484.10" y2="388.20000000000005" stroke="#111" stroke-width="1.2"/>
<line x1="498.65" y1="384.6" x2="498.65" y2="386.6" stroke="#111" stroke-width="1.2"/>
<line x1="513.20" y1="384.6" x2="513.20" y2="388.20000000000005" stroke="#111" stroke-width="1.2"/>
<g transform="translate(308.90,402.20000000000005) scale(1.17,1)"><text x="0" y="0" text-anchor="middle" font-family='"Liberation Sans", sans-serif' font-size="9" fill="#111">−2000</text></g>
<g transform="translate(367.10,402.20000000000005) scale(1.17,1)"><text x="0" y="0" text-anchor="middle" font-family='"Liberation Sans", sans-serif' font-size="9" fill="#111">2000</text></g>
<g transform="translate(425.30,402.20000000000005) scale(1.17,1)"><text x="0" y="0" text-anchor="middle" font-family='"Liberation Sans", sans-serif' font-size="9" fill="#111">6000</text></g>
<g transform="translate(483.50,402.20000000000005) scale(1.17,1)"><text x="0" y="0" text-anchor="middle" font-family='"Liberation Sans", sans-serif' font-size="9" fill="#111">10000</text></g>
<g transform="translate(315.12,266.80) scale(1.078,1)"><text x="0" y="0" font-family='"Liberation Serif", serif' font-weight="bold" font-size="17.85" fill="#000">D</text></g>
<text x="480.2" y="257.90" font-family='"Liberation Serif", serif' font-size="9.8" fill="#111">r=0.24</text>
<text x="480.2" y="268.95" font-family='"Liberation Serif", serif' font-size="9.8" fill="#111">p=0.14</text>
<text x="480.2" y="280.00" font-family='"Liberation Serif", serif' font-size="9.8" fill="#111">n=40</text>
<text x="345.20" y="416.5" font-family='"Liberation Serif", serif' font-size="11.8" fill="#111" textLength="139.40" lengthAdjust="spacingAndGlyphs">LC 50 of etoposide (10-8 M)</text>
</g>
<g>
<line x1="47.6" y1="471" x2="47.6" y2="606.0" stroke="#666" stroke-width="1" stroke-dasharray="1 1"/>
<line x1="26.9" y1="549.9" x2="230.6" y2="549.9" stroke="#222" stroke-width="1.4" stroke-dasharray="3.2 2.3"/>
<line x1="26.9" y1="565.0" x2="228.0" y2="470.2" stroke="#222" stroke-width="1.25"/>
<circle cx="73" cy="486.75" r="2.9" fill="none" stroke="#111" stroke-width="1.15"/>
<circle cx="103.25" cy="490.5" r="2.9" fill="none" stroke="#111" stroke-width="1.15"/>
<circle cx="50" cy="515" r="2.9" fill="none" stroke="#111" stroke-width="1.15"/>
<circle cx="58" cy="514.25" r="2.9" fill="none" stroke="#111" stroke-width="1.15"/>
<circle cx="106.25" cy="515" r="2.9" fill="none" stroke="#111" stroke-width="1.15"/>
<circle cx="128.75" cy="509.5" r="2.9" fill="none" stroke="#111" stroke-width="1.15"/>
<circle cx="124.25" cy="520.75" r="2.9" fill="none" stroke="#111" stroke-width="1.15"/>
<circle cx="80" cy="530" r="2.9" fill="none" stroke="#111" stroke-width="1.15"/>
<circle cx="90.5" cy="527.5" r="2.9" fill="none" stroke="#111" stroke-width="1.15"/>
<circle cx="75" cy="539.5" r="2.9" fill="none" stroke="#111" stroke-width="1.15"/>
<circle cx="88.75" cy="535.75" r="2.9" fill="none" stroke="#111" stroke-width="1.15"/>
<circle cx="83.75" cy="542.5" r="2.9" fill="none" stroke="#111" stroke-width="1.15"/>
<circle cx="67.4" cy="545.5" r="2.9" fill="none" stroke="#111" stroke-width="1.15"/>
<circle cx="133.75" cy="490.5" r="2.9" fill="none" stroke="#111" stroke-width="1.15"/>
<circle cx="193.3" cy="484.7" r="2.9" fill="none" stroke="#111" stroke-width="1.15"/>
<circle cx="210" cy="483.9" r="2.9" fill="none" stroke="#111" stroke-width="1.15"/>
<circle cx="226.2" cy="482.2" r="2.9" fill="none" stroke="#111" stroke-width="1.15"/>
<circle cx="226.2" cy="484.7" r="2.9" fill="none" stroke="#111" stroke-width="1.15"/>
<circle cx="139.5" cy="502.5" r="2.9" fill="none" stroke="#111" stroke-width="1.15"/>
<circle cx="150" cy="502.5" r="2.9" fill="none" stroke="#111" stroke-width="1.15"/>
<circle cx="180" cy="524.5" r="2.9" fill="none" stroke="#111" stroke-width="1.15"/>
<circle cx="54.6" cy="549.8" r="2.9" fill="none" stroke="#111" stroke-width="1.15"/>
<circle cx="55.6" cy="550.3" r="2.9" fill="none" stroke="#111" stroke-width="1.15"/>
<circle cx="47.5" cy="557.6" r="2.9" fill="none" stroke="#111" stroke-width="1.15"/>
<circle cx="56.1" cy="557.6" r="2.9" fill="none" stroke="#111" stroke-width="1.15"/>
<circle cx="60.6" cy="554.6" r="2.9" fill="none" stroke="#111" stroke-width="1.15"/>
<circle cx="49.6" cy="563.6" r="2.9" fill="none" stroke="#111" stroke-width="1.15"/>
<circle cx="51.6" cy="563.6" r="2.9" fill="none" stroke="#111" stroke-width="1.15"/>
<circle cx="53.6" cy="563.6" r="2.9" fill="none" stroke="#111" stroke-width="1.15"/>
<circle cx="55.1" cy="563.6" r="2.9" fill="none" stroke="#111" stroke-width="1.15"/>
<circle cx="56.1" cy="569.7" r="2.9" fill="none" stroke="#111" stroke-width="1.15"/>
<circle cx="47.8" cy="575.0" r="2.9" fill="none" stroke="#111" stroke-width="1.15"/>
<circle cx="48.3" cy="575.4" r="2.9" fill="none" stroke="#111" stroke-width="1.15"/>
<circle cx="57.3" cy="574.7" r="2.9" fill="none" stroke="#111" stroke-width="1.15"/>
<circle cx="50.1" cy="583.3" r="2.9" fill="none" stroke="#111" stroke-width="1.15"/>
<circle cx="52.8" cy="591.1" r="2.9" fill="none" stroke="#111" stroke-width="1.15"/>
<circle cx="53.4" cy="591.6" r="2.9" fill="none" stroke="#111" stroke-width="1.15"/>
<circle cx="57.6" cy="592.8" r="2.9" fill="none" stroke="#111" stroke-width="1.15"/>
<circle cx="50.6" cy="600.2" r="2.9" fill="none" stroke="#111" stroke-width="1.15"/>
<line x1="26.9" y1="470.2" x2="230.6" y2="470.2" stroke="#333" stroke-width="1.2"/>
<line x1="230.6" y1="470.2" x2="230.6" y2="606.0" stroke="#333" stroke-width="1.25"/>
<line x1="26.9" y1="469.59999999999997" x2="26.9" y2="606.6" stroke="#111" stroke-width="1.3"/>
<line x1="26.299999999999997" y1="606.0" x2="231.2" y2="606.0" stroke="#111" stroke-width="1.3"/>
<line x1="22.7" y1="606.00" x2="26.9" y2="606.00" stroke="#111" stroke-width="1.2"/>
<g transform="translate(17.3,610.40) scale(1.17,1)"><text x="0" y="0" text-anchor="end" font-family='"Liberation Sans", sans-serif' font-size="9" fill="#111">,5</text></g>
<line x1="22.7" y1="587.95" x2="26.9" y2="587.95" stroke="#111" stroke-width="1.2"/>
<g transform="translate(17.3,592.35) scale(1.17,1)"><text x="0" y="0" text-anchor="end" font-family='"Liberation Sans", sans-serif' font-size="9" fill="#111">,8</text></g>
<line x1="22.7" y1="569.89" x2="26.9" y2="569.89" stroke="#111" stroke-width="1.2"/>
<g transform="translate(17.3,574.29) scale(1.17,1)"><text x="0" y="0" text-anchor="end" font-family='"Liberation Sans", sans-serif' font-size="9" fill="#111">1,1</text></g>
<line x1="22.7" y1="551.84" x2="26.9" y2="551.84" stroke="#111" stroke-width="1.2"/>
<g transform="translate(17.3,556.24) scale(1.17,1)"><text x="0" y="0" text-anchor="end" font-family='"Liberation Sans", sans-serif' font-size="9" fill="#111">1,4</text></g>
<line x1="22.7" y1="533.78" x2="26.9" y2="533.78" stroke="#111" stroke-width="1.2"/>
<g transform="translate(17.3,538.18) scale(1.17,1)"><text x="0" y="0" text-anchor="end" font-family='"Liberation Sans", sans-serif' font-size="9" fill="#111">1,7</text></g>
<line x1="22.7" y1="515.73" x2="26.9" y2="515.73" stroke="#111" stroke-width="1.2"/>
<g transform="translate(17.3,520.13) scale(1.17,1)"><text x="0" y="0" text-anchor="end" font-family='"Liberation Sans", sans-serif' font-size="9" fill="#111">2</text></g>
<line x1="22.7" y1="497.67" x2="26.9" y2="497.67" stroke="#111" stroke-width="1.2"/>
<g transform="translate(17.3,502.07) scale(1.17,1)"><text x="0" y="0" text-anchor="end" font-family='"Liberation Sans", sans-serif' font-size="9" fill="#111">2,3</text></g>
<line x1="22.7" y1="479.62" x2="26.9" y2="479.62" stroke="#111" stroke-width="1.2"/>
<g transform="translate(17.3,484.02) scale(1.17,1)"><text x="0" y="0" text-anchor="end" font-family='"Liberation Sans", sans-serif' font-size="9" fill="#111">2,6</text></g>
<line x1="26.90" y1="606.0" x2="26.90" y2="609.6" stroke="#111" stroke-width="1.2"/>
<line x1="37.09" y1="606.0" x2="37.09" y2="608.0" stroke="#111" stroke-width="1.2"/>
<line x1="47.27" y1="606.0" x2="47.27" y2="609.6" stroke="#111" stroke-width="1.2"/>
<line x1="57.45" y1="606.0" x2="57.45" y2="608.0" stroke="#111" stroke-width="1.2"/>
<line x1="67.64" y1="606.0" x2="67.64" y2="609.6" stroke="#111" stroke-width="1.2"/>
<line x1="77.82" y1="606.0" x2="77.82" y2="608.0" stroke="#111" stroke-width="1.2"/>
<line x1="88.01" y1="606.0" x2="88.01" y2="609.6" stroke="#111" stroke-width="1.2"/>
<line x1="98.19" y1="606.0" x2="98.19" y2="608.0" stroke="#111" stroke-width="1.2"/>
<line x1="108.38" y1="606.0" x2="108.38" y2="609.6" stroke="#111" stroke-width="1.2"/>
<line x1="118.56" y1="606.0" x2="118.56" y2="608.0" stroke="#111" stroke-width="1.2"/>
<line x1="128.75" y1="606.0" x2="128.75" y2="609.6" stroke="#111" stroke-width="1.2"/>
<line x1="138.94" y1="606.0" x2="138.94" y2="608.0" stroke="#111" stroke-width="1.2"/>
<line x1="149.12" y1="606.0" x2="149.12" y2="609.6" stroke="#111" stroke-width="1.2"/>
<line x1="159.31" y1="606.0" x2="159.31" y2="608.0" stroke="#111" stroke-width="1.2"/>
<line x1="169.49" y1="606.0" x2="169.49" y2="609.6" stroke="#111" stroke-width="1.2"/>
<line x1="179.67" y1="606.0" x2="179.67" y2="608.0" stroke="#111" stroke-width="1.2"/>
<line x1="189.86" y1="606.0" x2="189.86" y2="609.6" stroke="#111" stroke-width="1.2"/>
<line x1="200.04" y1="606.0" x2="200.04" y2="608.0" stroke="#111" stroke-width="1.2"/>
<line x1="210.23" y1="606.0" x2="210.23" y2="609.6" stroke="#111" stroke-width="1.2"/>
<line x1="220.41" y1="606.0" x2="220.41" y2="608.0" stroke="#111" stroke-width="1.2"/>
<line x1="230.60" y1="606.0" x2="230.60" y2="609.6" stroke="#111" stroke-width="1.2"/>
<g transform="translate(26.30,623.0) scale(1.17,1)"><text x="0" y="0" text-anchor="middle" font-family='"Liberation Sans", sans-serif' font-size="9" fill="#111">−20</text></g>
<g transform="translate(67.04,623.0) scale(1.17,1)"><text x="0" y="0" text-anchor="middle" font-family='"Liberation Sans", sans-serif' font-size="9" fill="#111">20</text></g>
<g transform="translate(107.78,623.0) scale(1.17,1)"><text x="0" y="0" text-anchor="middle" font-family='"Liberation Sans", sans-serif' font-size="9" fill="#111">60</text></g>
<g transform="translate(148.52,623.0) scale(1.17,1)"><text x="0" y="0" text-anchor="middle" font-family='"Liberation Sans", sans-serif' font-size="9" fill="#111">100</text></g>
<g transform="translate(189.26,623.0) scale(1.17,1)"><text x="0" y="0" text-anchor="middle" font-family='"Liberation Sans", sans-serif' font-size="9" fill="#111">140</text></g>
<g transform="translate(230.00,623.0) scale(1.17,1)"><text x="0" y="0" text-anchor="middle" font-family='"Liberation Sans", sans-serif' font-size="9" fill="#111">180</text></g>
<g transform="translate(31.01,486.80) scale(0.859,1)"><text x="0" y="0" font-family='"Liberation Serif", serif' font-weight="bold" font-size="17.08" fill="#000">E</text></g>
<text x="193.0" y="580.80" font-family='"Liberation Serif", serif' font-size="9.8" fill="#111">r=0.77</text>
<text x="193.0" y="591.85" font-family='"Liberation Serif", serif' font-size="9.8" fill="#111">p&lt;0.0001</text>
<text x="193.0" y="602.90" font-family='"Liberation Serif", serif' font-size="9.8" fill="#111">n=40</text>
<text x="80.90" y="640.4" font-family='"Liberation Serif", serif' font-size="11.8" fill="#111" textLength="116.50" lengthAdjust="spacingAndGlyphs">LC 50 of DNR (10-8 M)</text>
</g>
<g>
<line x1="343.7" y1="472" x2="343.7" y2="607.3" stroke="#666" stroke-width="1" stroke-dasharray="1 1"/>
<line x1="314.4" y1="545.4" x2="518.3" y2="545.4" stroke="#222" stroke-width="1.4" stroke-dasharray="3.2 2.3"/>
<line x1="314.4" y1="558.3" x2="481.0" y2="471.9" stroke="#222" stroke-width="1.25"/>
<circle cx="350.75" cy="477.5" r="2.9" fill="none" stroke="#111" stroke-width="1.15"/>
<circle cx="379.6" cy="480.2" r="2.9" fill="none" stroke="#111" stroke-width="1.15"/>
<circle cx="386.7" cy="483.8" r="2.9" fill="none" stroke="#111" stroke-width="1.15"/>
<circle cx="352" cy="502.5" r="2.9" fill="none" stroke="#111" stroke-width="1.15"/>
<circle cx="345" cy="508.0" r="2.9" fill="none" stroke="#111" stroke-width="1.15"/>
<circle cx="345.4" cy="508.6" r="2.9" fill="none" stroke="#111" stroke-width="1.15"/>
<circle cx="365" cy="515" r="2.9" fill="none" stroke="#111" stroke-width="1.15"/>
<circle cx="357.5" cy="520.75" r="2.9" fill="none" stroke="#111" stroke-width="1.15"/>
<circle cx="353" cy="524.5" r="2.9" fill="none" stroke="#111" stroke-width="1.15"/>
<circle cx="389.4" cy="536.6" r="2.9" fill="none" stroke="#111" stroke-width="1.15"/>
<circle cx="411.5" cy="482.7" r="2.9" fill="none" stroke="#111" stroke-width="1.15"/>
<circle cx="416.3" cy="478.4" r="2.9" fill="none" stroke="#111" stroke-width="1.15"/>
<circle cx="488.8" cy="483.8" r="2.9" fill="none" stroke="#111" stroke-width="1.15"/>
<circle cx="424.4" cy="508" r="2.9" fill="none" stroke="#111" stroke-width="1.15"/>
<circle cx="433.9" cy="518.8" r="2.9" fill="none" stroke="#111" stroke-width="1.15"/>
<circle cx="381.25" cy="530" r="2.9" fill="none" stroke="#111" stroke-width="1.15"/>
<circle cx="345.7" cy="533.0" r="2.9" fill="none" stroke="#111" stroke-width="1.15"/>
<circle cx="345.4" cy="538.8" r="2.9" fill="none" stroke="#111" stroke-width="1.15"/>
<circle cx="345.9" cy="539.6" r="2.9" fill="none" stroke="#111" stroke-width="1.15"/>
<circle cx="357.8" cy="546.8" r="2.9" fill="none" stroke="#111" stroke-width="1.15"/>
<circle cx="365.2" cy="546.4" r="2.9" fill="none" stroke="#111" stroke-width="1.15"/>
<circle cx="357.1" cy="549.5" r="2.9" fill="none" stroke="#111" stroke-width="1.15"/>
<circle cx="355.8" cy="552.2" r="2.9" fill="none" stroke="#111" stroke-width="1.15"/>
<circle cx="343.4" cy="551.5" r="2.9" fill="none" stroke="#111" stroke-width="1.15"/>
<circle cx="347.7" cy="551.5" r="2.9" fill="none" stroke="#111" stroke-width="1.15"/>
<circle cx="344.4" cy="558.0" r="2.9" fill="none" stroke="#111" stroke-width="1.15"/>
<circle cx="345.0" cy="558.6" r="2.9" fill="none" stroke="#111" stroke-width="1.15"/>
<circle cx="349.3" cy="557.6" r="2.9" fill="none" stroke="#111" stroke-width="1.15"/>
<circle cx="350.4" cy="563.0" r="2.9" fill="none" stroke="#111" stroke-width="1.15"/>
<circle cx="353.1" cy="563.0" r="2.9" fill="none" stroke="#111" stroke-width="1.15"/>
<circle cx="348.4" cy="566.3" r="2.9" fill="none" stroke="#111" stroke-width="1.15"/>
<circle cx="360.5" cy="564.3" r="2.9" fill="none" stroke="#111" stroke-width="1.15"/>
<circle cx="344.3" cy="570.4" r="2.9" fill="none" stroke="#111" stroke-width="1.15"/>
<circle cx="352.8" cy="569.0" r="2.9" fill="none" stroke="#111" stroke-width="1.15"/>
<circle cx="367.2" cy="569.7" r="2.9" fill="none" stroke="#111" stroke-width="1.15"/>
<circle cx="347.4" cy="578.2" r="2.9" fill="none" stroke="#111" stroke-width="1.15"/>
<circle cx="346.3" cy="596.0" r="2.9" fill="none" stroke="#111" stroke-width="1.15"/>
<line x1="314.4" y1="471.9" x2="518.3" y2="471.9" stroke="#333" stroke-width="1.2"/>
<line x1="518.3" y1="471.9" x2="518.3" y2="607.3" stroke="#333" stroke-width="1.25"/>
<line x1="314.4" y1="471.29999999999995" x2="314.4" y2="607.9" stroke="#111" stroke-width="1.3"/>
<line x1="313.79999999999995" y1="607.3" x2="518.9" y2="607.3" stroke="#111" stroke-width="1.3"/>
<line x1="310.2" y1="607.30" x2="314.4" y2="607.30" stroke="#111" stroke-width="1.2"/>
<g transform="translate(305.5,611.70) scale(1.17,1)"><text x="0" y="0" text-anchor="end" font-family='"Liberation Sans", sans-serif' font-size="9" fill="#111">,4</text></g>
<line x1="310.2" y1="594.99" x2="314.4" y2="594.99" stroke="#111" stroke-width="1.2"/>
<g transform="translate(305.5,599.39) scale(1.17,1)"><text x="0" y="0" text-anchor="end" font-family='"Liberation Sans", sans-serif' font-size="9" fill="#111">,6</text></g>
<line x1="310.2" y1="582.68" x2="314.4" y2="582.68" stroke="#111" stroke-width="1.2"/>
<g transform="translate(305.5,587.08) scale(1.17,1)"><text x="0" y="0" text-anchor="end" font-family='"Liberation Sans", sans-serif' font-size="9" fill="#111">,8</text></g>
<line x1="310.2" y1="570.37" x2="314.4" y2="570.37" stroke="#111" stroke-width="1.2"/>
<g transform="translate(305.5,574.77) scale(1.17,1)"><text x="0" y="0" text-anchor="end" font-family='"Liberation Sans", sans-serif' font-size="9" fill="#111">1</text></g>
<line x1="310.2" y1="558.06" x2="314.4" y2="558.06" stroke="#111" stroke-width="1.2"/>
<g transform="translate(305.5,562.46) scale(1.17,1)"><text x="0" y="0" text-anchor="end" font-family='"Liberation Sans", sans-serif' font-size="9" fill="#111">1,2</text></g>
<line x1="310.2" y1="545.75" x2="314.4" y2="545.75" stroke="#111" stroke-width="1.2"/>
<g transform="translate(305.5,550.15) scale(1.17,1)"><text x="0" y="0" text-anchor="end" font-family='"Liberation Sans", sans-serif' font-size="9" fill="#111">1,4</text></g>
<line x1="310.2" y1="533.45" x2="314.4" y2="533.45" stroke="#111" stroke-width="1.2"/>
<g transform="translate(305.5,537.85) scale(1.17,1)"><text x="0" y="0" text-anchor="end" font-family='"Liberation Sans", sans-serif' font-size="9" fill="#111">1,6</text></g>
<line x1="310.2" y1="521.14" x2="314.4" y2="521.14" stroke="#111" stroke-width="1.2"/>
<g transform="translate(305.5,525.54) scale(1.17,1)"><text x="0" y="0" text-anchor="end" font-family='"Liberation Sans", sans-serif' font-size="9" fill="#111">1,8</text></g>
<line x1="310.2" y1="508.83" x2="314.4" y2="508.83" stroke="#111" stroke-width="1.2"/>
<g transform="translate(305.5,513.23) scale(1.17,1)"><text x="0" y="0" text-anchor="end" font-family='"Liberation Sans", sans-serif' font-size="9" fill="#111">2</text></g>
<line x1="310.2" y1="496.52" x2="314.4" y2="496.52" stroke="#111" stroke-width="1.2"/>
<g transform="translate(305.5,500.92) scale(1.17,1)"><text x="0" y="0" text-anchor="end" font-family='"Liberation Sans", sans-serif' font-size="9" fill="#111">2,2</text></g>
<line x1="310.2" y1="484.21" x2="314.4" y2="484.21" stroke="#111" stroke-width="1.2"/>
<g transform="translate(305.5,488.61) scale(1.17,1)"><text x="0" y="0" text-anchor="end" font-family='"Liberation Sans", sans-serif' font-size="9" fill="#111">2,4</text></g>
<line x1="310.2" y1="471.90" x2="314.4" y2="471.90" stroke="#111" stroke-width="1.2"/>
<g transform="translate(305.5,476.30) scale(1.17,1)"><text x="0" y="0" text-anchor="end" font-family='"Liberation Sans", sans-serif' font-size="9" fill="#111">2,6</text></g>
<line x1="314.40" y1="607.3" x2="314.40" y2="610.9" stroke="#111" stroke-width="1.2"/>
<line x1="328.96" y1="607.3" x2="328.96" y2="609.3" stroke="#111" stroke-width="1.2"/>
<line x1="343.53" y1="607.3" x2="343.53" y2="610.9" stroke="#111" stroke-width="1.2"/>
<line x1="358.09" y1="607.3" x2="358.09" y2="609.3" stroke="#111" stroke-width="1.2"/>
<line x1="372.66" y1="607.3" x2="372.66" y2="610.9" stroke="#111" stroke-width="1.2"/>
<line x1="387.22" y1="607.3" x2="387.22" y2="609.3" stroke="#111" stroke-width="1.2"/>
<line x1="401.79" y1="607.3" x2="401.79" y2="610.9" stroke="#111" stroke-width="1.2"/>
<line x1="416.35" y1="607.3" x2="416.35" y2="609.3" stroke="#111" stroke-width="1.2"/>
<line x1="430.91" y1="607.3" x2="430.91" y2="610.9" stroke="#111" stroke-width="1.2"/>
<line x1="445.48" y1="607.3" x2="445.48" y2="609.3" stroke="#111" stroke-width="1.2"/>
<line x1="460.04" y1="607.3" x2="460.04" y2="610.9" stroke="#111" stroke-width="1.2"/>
<line x1="474.61" y1="607.3" x2="474.61" y2="609.3" stroke="#111" stroke-width="1.2"/>
<line x1="489.17" y1="607.3" x2="489.17" y2="610.9" stroke="#111" stroke-width="1.2"/>
<line x1="503.74" y1="607.3" x2="503.74" y2="609.3" stroke="#111" stroke-width="1.2"/>
<line x1="518.30" y1="607.3" x2="518.30" y2="610.9" stroke="#111" stroke-width="1.2"/>
<g transform="translate(313.80,624.3) scale(1.17,1)"><text x="0" y="0" text-anchor="middle" font-family='"Liberation Sans", sans-serif' font-size="9" fill="#111">−2000</text></g>
<g transform="translate(372.06,624.3) scale(1.17,1)"><text x="0" y="0" text-anchor="middle" font-family='"Liberation Sans", sans-serif' font-size="9" fill="#111">2000</text></g>
<g transform="translate(430.31,624.3) scale(1.17,1)"><text x="0" y="0" text-anchor="middle" font-family='"Liberation Sans", sans-serif' font-size="9" fill="#111">6000</text></g>
<g transform="translate(488.57,624.3) scale(1.17,1)"><text x="0" y="0" text-anchor="middle" font-family='"Liberation Sans", sans-serif' font-size="9" fill="#111">10000</text></g>
<g transform="translate(320.67,488.80) scale(0.937,1)"><text x="0" y="0" font-family='"Liberation Serif", serif' font-weight="bold" font-size="17.38" fill="#000">F</text></g>
<text x="481.5" y="579.20" font-family='"Liberation Serif", serif' font-size="9.8" fill="#111">r=0.54</text>
<text x="481.5" y="590.25" font-family='"Liberation Serif", serif' font-size="9.8" fill="#111">p=0.007</text>
<text x="481.5" y="601.30" font-family='"Liberation Serif", serif' font-size="9.8" fill="#111">n=40</text>
<text x="350.50" y="641.9" font-family='"Liberation Serif", serif' font-size="11.8" fill="#111" textLength="138.70" lengthAdjust="spacingAndGlyphs">LC 50 of etoposide (10-8 M)</text>
</g>
</svg></body></html>
